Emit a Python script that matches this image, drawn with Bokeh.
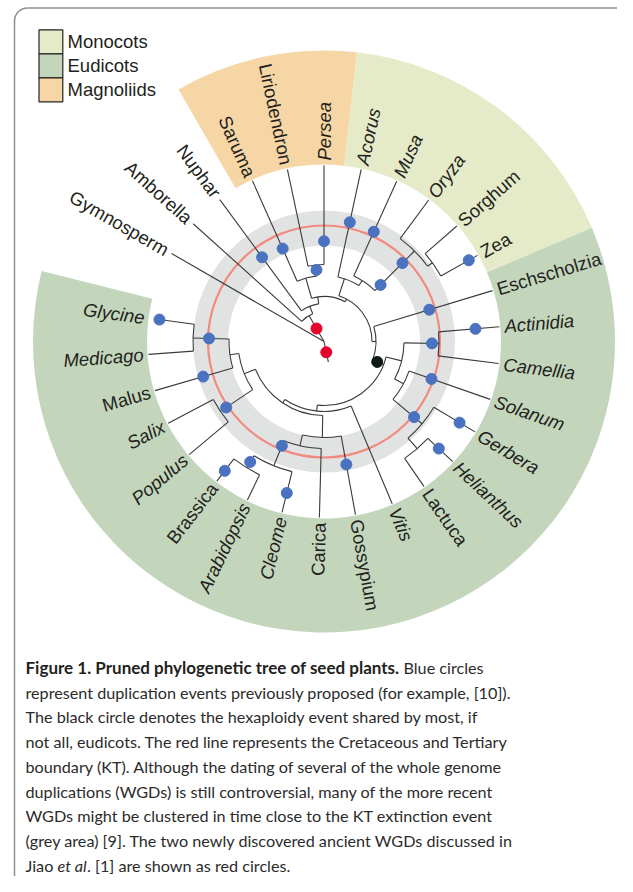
import numpy as np
from bokeh.plotting import figure
from bokeh.models import Range1d, ColumnDataSource
from bokeh.embed import file_html
from bokeh.resources import INLINE
from bokeh.core.properties import value, field

# ---------------- data ----------------
leaf_names = ["Gymnosperm", "Amborella", "Nuphar", "Saruma", "Liriodendron", "Persea",
              "Acorus", "Musa", "Oryza", "Sorghum", "Zea", "Eschscholzia", "Actinidia",
              "Camellia", "Solanum", "Gerbera", "Helianthus", "Lactuca", "Vitis",
              "Gossypium", "Carica", "Cleome", "Arabidopsis", "Brassica", "Populus",
              "Salix", "Malus", "Medicago", "Glycine"]
leaf_angles = [150.0, 138.0, 126.3, 114.0, 102.0, 90.0, 77.8, 65.6, 53.5, 41.0, 29.3,
               16.8, 4.8, -7.2, -19.2, -30.9, -43.0, -55.4, -67.2, -79.7, -91.5,
               -103.8, -115.8, -127.5, -140.0, -152.3, -163.8, -175.8, -187.6]
leaf_tip_r = [176, 176, 176, 176, 176, 176, 176, 176, 176, 176, 176, 176, 176, 176,
              176, 176, 176, 176, 176, 176, 176, 176, 176, 176, 176, 176, 176, 176, 166]
leaf_parent = ["root", "angio", "nymph", "magnol", "lirper", "lirper", "monocots",
               "musagrass", "grasses", "sorzea", "sorzea", "eudicots", "ericales",
               "ericales", "euasterids", "asteraceae", "helilact", "helilact", "rosids",
               "malvids", "brassicales", "cleobras", "brassicaceae", "brassicaceae",
               "malpighiales", "malpighiales", "malleg", "legumes", "legumes"]
leaf_italic = [False, False, False, False, False, True, True, True, True, False, False,
               False, True, True, True, True, True, False, True, False, False, True,
               True, False, True, True, False, True, True]

node_names = ["angio", "nymph", "mesangio", "magnol", "lirper", "monoeu", "monocots",
              "musagrass", "grasses", "sorzea", "eudicots", "core", "asterids",
              "ericales", "euasterids", "asteraceae", "helilact", "rosids", "eurosids",
              "malvids", "brassicales", "cleobras", "brassicaceae", "fabids",
              "malpighiales", "malleg", "legumes"]
node_parent = ["root", "angio", "nymph", "mesangio", "magnol", "mesangio", "monoeu",
               "monocots", "musagrass", "grasses", "monoeu", "eudicots", "core",
               "asterids", "asterids", "euasterids", "asteraceae", "core", "rosids",
               "eurosids", "malvids", "brassicales", "cleobras", "eurosids", "fabids",
               "fabids", "malleg"]
node_angle = [120, 112, 98, 106, 96, 62, 72, 58, 45, 36, 0, -21, -14, -1, -28, -40,
              -49, -96, -124, -91, -103, -112, -121.5, -158, -146, -172, -181.5]
node_r = [30, 38, 45, 66, 77, 48, 66, 72, 128, 134, 52, 64, 80, 115, 90, 128, 142,
          70, 74, 96, 107, 134, 148, 86, 125, 95, 131]

blue_on = ["Nuphar", "Saruma", "lirper", "Persea", "Acorus", "Musa", "grasses",
           "grasses", "Zea", "Eschscholzia", "Actinidia", "ericales", "Solanum",
           "Gerbera", "asteraceae", "Helianthus", "Gossypium", "cleobras", "Cleome",
           "brassicaceae", "Brassica", "malpighiales", "Malus", "legumes", "Glycine"]
blue_r = [104.5, 101.7, 72, 100.3, 122, 120.5, 80, 111, 166, 110, 152, 108, 113.8,
          158, 117.6, 157, 125, 112.5, 156, 141.3, 163, 118, 125.8, 115, 166]
red_on = ["stub", "angio"]
red_r = [11, 15]
black_on = ["core"]
black_r = [57]

clade_names = ["Monocots", "Eudicots", "Magnoliids"]
clade_colors = ["#e5ebc8", "#c3d6bc", "#f6d6a4"]
clade_start = [23.0, 166.0, 83.5]
clade_end = [83.5, 23.0, 120.0]

caption_bold = "Figure 1. Pruned phylogenetic tree of seed plants."
caption_first_rest = "Blue circles"
caption_lines = [
    "represent duplication events previously proposed (for example, [10]).",
    "The black circle denotes the hexaploidy event shared by most, if",
    "not all, eudicots. The red line represents the Cretaceous and Tertiary",
    "boundary (KT). Although the dating of several of the whole genome",
    "duplications (WGDs) is still controversial, many of the more recent",
    "WGDs might be clustered in time close to the KT extinction event",
    "(grey area) [9]. The two newly discovered ancient WGDs discussed in",
]
caption_last = ["Jiao", "et al", ". [1] are shown as red circles."]

# ---------------- layout ----------------
W, H = 617, 876
CX, CY = 323.5, -341.0
BAND_IN, BAND_OUT = 177, 291
GREY_IN, GREY_OUT = 96, 131
KT_R = 116
LABEL_R = 181
STUB_ANGLE, STUB_LEN = -78, 21
INK = "#231f20"
CAPINK = "#2b2b2b"
LINE = "#3a3a3a"
LFONT = "Liberation Sans"
CFONT = "Lato"
CSIZE = "16.2px"

p = figure(width=W, height=H, x_range=Range1d(0, W), y_range=Range1d(-H, 0),
           output_backend="svg", toolbar_location=None, min_border=0,
           x_axis_location=None, y_axis_location=None)
p.grid.visible = False
p.outline_line_color = None
p.background_fill_color = "white"


def pol(a_deg, r):
    a = np.radians(a_deg)
    return CX + r * np.cos(a), CY + r * np.sin(a)


# clade bands
p.annular_wedge(x=CX, y=CY, inner_radius=BAND_IN, outer_radius=BAND_OUT,
                start_angle=np.radians(clade_start), end_angle=np.radians(clade_end),
                fill_color=clade_colors, line_color=None)
# grey KT zone and KT line
p.annulus(x=CX, y=CY, inner_radius=GREY_IN, outer_radius=GREY_OUT,
          fill_color="#e1e3e3", line_color=None)
p.circle(x=CX, y=CY, radius=KT_R, fill_color=None, line_color="#f28a80", line_width=2.2)

# tree structure
ang = {"root": 0.0, "stub": STUB_ANGLE}
rad = {"root": 0.0, "stub": STUB_LEN}
par = {}
for n, a, r, pr in zip(leaf_names, leaf_angles, leaf_tip_r, leaf_parent):
    ang[n], rad[n], par[n] = a, r, pr
for n, a, r, pr in zip(node_names, node_angle, node_r, node_parent):
    ang[n], rad[n], par[n] = a, r, pr

x0, y0, x1, y1 = [], [], [], []
for n, pr in par.items():
    a0x, a0y = pol(ang[n], rad[pr])
    a1x, a1y = pol(ang[n], rad[n])
    x0.append(a0x); y0.append(a0y); x1.append(a1x); y1.append(a1y)
sx, sy = pol(STUB_ANGLE, STUB_LEN)
x0.append(CX); y0.append(CY); x1.append(sx); y1.append(sy)
p.segment(x0=x0, y0=y0, x1=x1, y1=y1, line_color=LINE, line_width=1.1)

arc_r, arc_s, arc_e = [], [], []
for n in node_names:
    kids = [ang[c] for c, pr in par.items() if pr == n] + [ang[n]]
    arc_r.append(rad[n]); arc_s.append(np.radians(min(kids))); arc_e.append(np.radians(max(kids)))
p.arc(x=CX, y=CY, radius=arc_r, start_angle=arc_s, end_angle=arc_e,
      line_color=LINE, line_width=1.1)

# events
bx, by = zip(*[pol(ang[n], r) for n, r in zip(blue_on, blue_r)])
p.scatter(x=list(bx), y=list(by), size=11, marker="circle", fill_color="#4a72c0",
          line_color="#4a72c0")
rx, ry = zip(*[pol(ang[n], r) for n, r in zip(red_on, red_r)])
p.scatter(x=list(rx), y=list(ry), size=11, marker="circle", fill_color="#e4002b",
          line_color="#e4002b")
kx, ky = zip(*[pol(ang[n], r) for n, r in zip(black_on, black_r)])
p.scatter(x=list(kx), y=list(ky), size=11, marker="circle", fill_color="#0e1a14",
          line_color="#0e1a14")

# leaf labels
lx, ly, la, lal, lst = [], [], [], [], []
for n, a, it in zip(leaf_names, leaf_angles, leaf_italic):
    x, y = pol(a, LABEL_R)
    lx.append(x); ly.append(y)
    right_half = -90 < a <= 90
    la.append(np.radians(a if right_half else a + 180))
    lal.append("left" if right_half else "right")
    lst.append("italic" if it else "normal")
src = ColumnDataSource(dict(x=lx, y=ly, t=leaf_names, a=la, al=lal, st=lst))
p.text(x="x", y="y", text="t", angle="a", text_align=field("al"),
       text_baseline="middle", text_font=value(LFONT), text_font_style=field("st"),
       text_font_size="18.5px", text_color=INK, source=src)

# legend
lg_top = [-29.3, -53.3, -77.3]
p.quad(left=38.5, right=62.3, top=lg_top, bottom=[t - 24 for t in lg_top],
       fill_color=clade_colors, line_color="#222222", line_width=1.2)
p.text(x=67, y=[t - 12 for t in lg_top], text=clade_names, text_baseline="middle",
       text_align="left", text_font=value(LFONT), text_font_size="18.5px",
       text_color=INK)

# caption
BASE0, STEP, CAPX = -667.0, 24.7, 25
p.text(x=CAPX, y=BASE0, text=[caption_bold], text_baseline="alphabetic",
       text_font=value(CFONT), text_font_style="bold", text_font_size="17px",
       text_color=INK)
p.text(x=403, y=BASE0, text=[caption_first_rest], text_baseline="alphabetic",
       text_font=value(CFONT), text_font_size=CSIZE, text_color=CAPINK)
p.text(x=CAPX, y=[BASE0 - STEP * (i + 1) for i in range(len(caption_lines))],
       text=caption_lines, text_baseline="alphabetic", text_font=value(CFONT),
       text_font_size=CSIZE, text_color=CAPINK)
ylast = BASE0 - STEP * (len(caption_lines) + 1)
p.text(x=[CAPX, 86.5], y=[ylast, ylast], text=[caption_last[0], caption_last[2]],
       text_baseline="alphabetic", text_font=value(CFONT), text_font_size=CSIZE,
       text_color=CAPINK)
p.text(x=57, y=ylast, text=[caption_last[1]], text_baseline="alphabetic",
       text_font=value(CFONT), text_font_style="italic", text_font_size=CSIZE,
       text_color=CAPINK)

# frame
BC = "#8f8f8f"
p.segment(x0=[14, 27, 632], y0=[-900, -7.5, -20.5], x1=[14, 619, 632], y1=[-20.5, -7.5, -900],
          line_color=BC, line_width=1.5)
p.arc(x=[27, 619], y=[-20.5, -20.5], radius=13, start_angle=[np.pi / 2, 0],
      end_angle=[np.pi, np.pi / 2], line_color=BC, line_width=1.5)

open("out.html", "w").write(file_html(p, INLINE))
